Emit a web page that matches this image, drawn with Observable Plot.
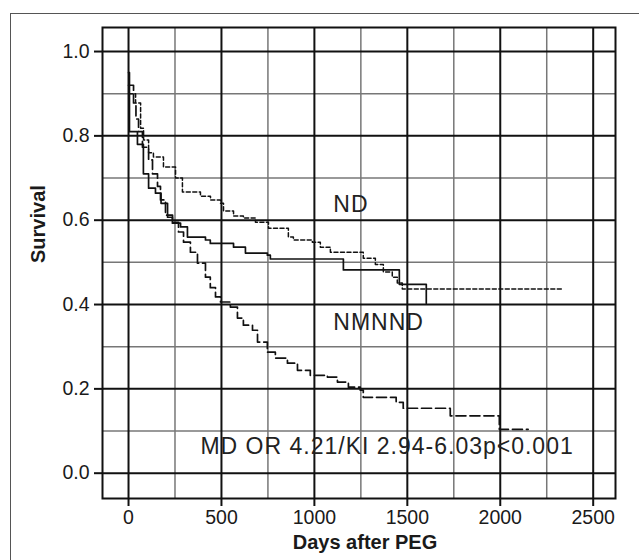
<!DOCTYPE html>
<html>
<head>
<meta charset="utf-8">
<script src="https://cdn.jsdelivr.net/npm/d3@7"></script>
<script src="https://cdn.jsdelivr.net/npm/@observablehq/plot@0.6"></script>
<style>
  html, body { margin: 0; padding: 0; background: #fff; }
  #wrap { position: relative; width: 639px; height: 560px; overflow: hidden; }
  #border { position: absolute; left: 10px; top: 13px; width: 700px; height: 700px; border: 1.5px solid #555; box-sizing: border-box; }
  #chart { position: absolute; left: 0; top: 0; }
</style>
</head>
<body>
<div id="wrap"><div id="border"></div><div id="chart"></div></div>
<script>
// Solid curve
const solidDays = [0, 5, 48, 80, 108, 145, 175, 210, 236, 280, 317, 414, 440, 565, 629, 747, 763, 1156, 1457, 1602];
const solidSurv = [0.95, 0.81, 0.78, 0.71, 0.676, 0.664, 0.64, 0.607, 0.593, 0.584, 0.56, 0.553, 0.545, 0.536, 0.522, 0.517, 0.508, 0.482, 0.448, 0.403];
// ND (short dashed)
const ndDays = [0, 38, 65, 81, 108, 134, 188, 253, 290, 387, 441, 495, 511, 565, 618, 683, 753, 860, 887, 989, 1032, 1086, 1263, 1328, 1371, 1419, 1446, 1473, 2340];
const ndSurv = [0.90, 0.878, 0.818, 0.79, 0.76, 0.75, 0.726, 0.70, 0.667, 0.657, 0.648, 0.64, 0.622, 0.61, 0.605, 0.595, 0.581, 0.56, 0.553, 0.548, 0.536, 0.524, 0.51, 0.495, 0.477, 0.465, 0.451, 0.437, 0.437];
// MD (long dashed)
const mdDays = [0, 27, 40, 54, 75, 108, 129, 156, 172, 199, 237, 269, 296, 333, 371, 414, 440, 468, 495, 548, 586, 618, 667, 694, 747, 790, 855, 909, 978, 1070, 1124, 1183, 1247, 1263, 1440, 1478, 1731, 1995, 2150];
const mdSurv = [0.92, 0.878, 0.84, 0.81, 0.773, 0.743, 0.71, 0.68, 0.648, 0.612, 0.595, 0.572, 0.548, 0.524, 0.498, 0.465, 0.44, 0.418, 0.406, 0.394, 0.368, 0.351, 0.339, 0.311, 0.287, 0.273, 0.261, 0.244, 0.232, 0.228, 0.216, 0.204, 0.197, 0.18, 0.168, 0.154, 0.136, 0.104, 0.104];

const xTicks = [0, 500, 1000, 1500, 2000, 2500];
const xMinor = [250, 750, 1250, 1750, 2250];
const yTicks = [0, 0.2, 0.4, 0.6, 0.8, 1.0];
const yMinor = [0.1, 0.3, 0.5, 0.7, 0.9];

const labelText = ["ND", "NMNND", "MD OR 4.21/KI 2.94-6.03p<0.001"];
const labelDay = [1102, 1102, 387];
const labelSurv = [0.636, 0.358, 0.064];

const toRows = (ds, ss) => ds.map((d, i) => ({day: d, s: ss[i]}));
const solid = toRows(solidDays, solidSurv);
const nd = toRows(ndDays, ndSurv);
const md = toRows(mdDays, mdSurv);
const labels = labelText.map((t, i) => ({t, day: labelDay[i], s: labelSurv[i]}));

const chart = Plot.plot({
  width: 639,
  height: 560,
  marginLeft: 102,
  marginRight: 24,
  marginTop: 27,
  marginBottom: 62,
  style: {fontFamily: "'Liberation Sans', Arial, sans-serif", color: "#1a1a1a", background: "transparent"},
  x: {domain: [-140, 2620], label: null},
  y: {domain: [-0.06, 1.057], label: null},
  marks: [
    Plot.ruleX(xMinor, {stroke: "#777", strokeWidth: 1.5}),
    Plot.ruleY(yMinor, {stroke: "#777", strokeWidth: 1.5}),
    Plot.ruleX(xTicks, {stroke: "#111", strokeWidth: 2}),
    Plot.ruleY(yTicks, {stroke: "#111", strokeWidth: 2}),
    Plot.frame({stroke: "#111", strokeWidth: 2}),
    Plot.axisX({ticks: xTicks, tickSize: 8, tickPadding: 4, fontSize: 19.5, strokeWidth: 2, stroke: "#111", label: null, tickFormat: d => String(d)}),
    Plot.axisY({ticks: yTicks, tickSize: 8, tickPadding: 5, fontSize: 19.5, strokeWidth: 2, stroke: "#111", label: null, tickFormat: d3.format(".1f")}),
    Plot.line(md, {x: "day", y: "s", curve: "step-after", stroke: "#111", strokeWidth: 1.7, strokeDasharray: "10,4"}),
    Plot.line(nd, {x: "day", y: "s", curve: "step-after", stroke: "#111", strokeWidth: 1.5, strokeDasharray: "4,2.5"}),
    Plot.line(solid, {x: "day", y: "s", curve: "step-after", stroke: "#111", strokeWidth: 1.7}),
    Plot.text(labels, {x: "day", y: "s", text: "t", textAnchor: "start", lineAnchor: "middle", fontSize: 23, fill: "#222"}),
    Plot.text(["Days after PEG"], {frameAnchor: "bottom", dy: 50, dx: 6, fontSize: 20, fontWeight: "bold", fill: "#1a1a1a"}),
    Plot.text(["Survival"], {frameAnchor: "left", dx: -64, rotate: -90, fontSize: 20, fontWeight: "bold", fill: "#1a1a1a"})
  ]
});
d3.select(chart).selectAll("text")
  .filter(function() { return labelText.includes(this.textContent); })
  .attr("letter-spacing", "1px");
document.getElementById("chart").appendChild(chart);
</script>
</body>
</html>
